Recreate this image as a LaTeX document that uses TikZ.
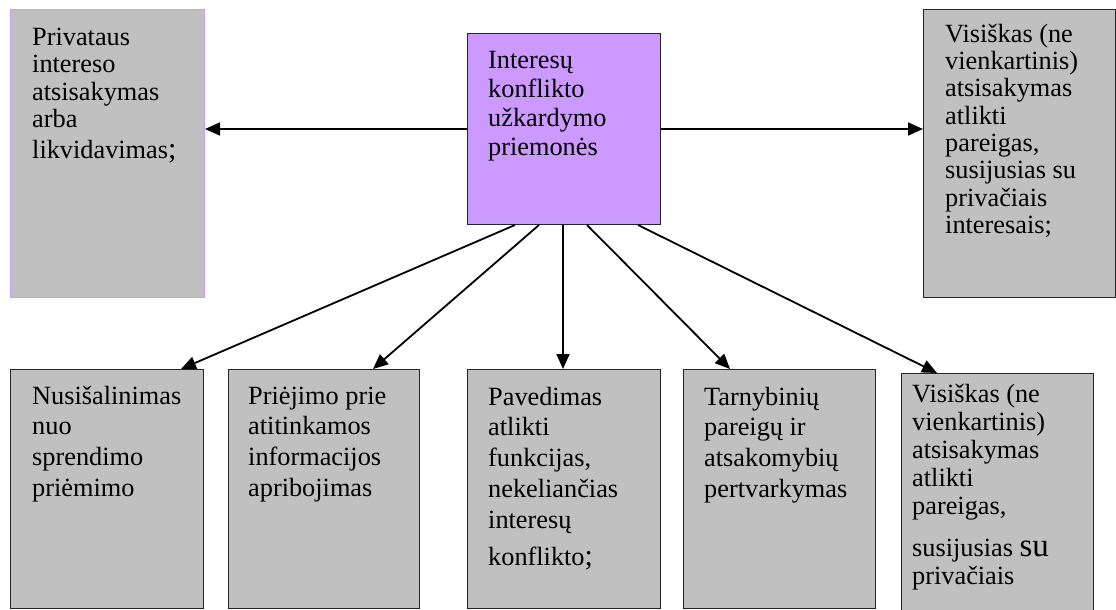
\documentclass[tikz,border=0pt]{standalone}
\usepackage{fontspec}
\setmainfont{Liberation Serif}
\usetikzlibrary{arrows.meta}
\definecolor{boxgray}{HTML}{C0C0C0}
\definecolor{lilac}{HTML}{CC99FF}
\newcommand{\bigsemi}{{\fontsize{30}{30}\selectfont;}}
% invisible rule: puts the top of every text block 22pt above its first baseline
\newcommand{\firstline}{\rule{0pt}{22pt}}
\begin{document}
\begin{tikzpicture}[x=1pt,y=-1pt,
  panel/.style={draw=black!85, line width=1pt, fill=boxgray, inner sep=0pt,
    anchor=north west},
  label text/.style={anchor=north west, align=left, inner sep=0pt,
    font=\fontsize{26.3}{#1}\selectfont},
  label text/.default=27.5,
  arr/.style={line width=1.8pt, -{Triangle[length=15pt,width=13pt]}}]
\clip (0,0) rectangle (1116,610);

% boxes
\node[panel, draw=lilac, minimum width=194pt, minimum height=288pt] (tl) at (10,9) {};
\node[panel, fill=lilac, minimum width=193pt, minimum height=191pt] (c) at (467,33) {};
\node[panel, minimum width=192pt, minimum height=288pt] (tr) at (923,9) {};
\node[panel, minimum width=193pt, minimum height=239pt] (b1) at (10,369) {};
\node[panel, minimum width=191pt, minimum height=239pt] (b2) at (228,369) {};
\node[panel, minimum width=193pt, minimum height=239pt] (b3) at (467,369) {};
\node[panel, minimum width=192pt, minimum height=239pt] (b4) at (683,369) {};
\node[panel, minimum width=192pt, minimum height=260pt] (b5) at (901,373) {};

% texts
\node[label text=27.5] (tlt) at ([xshift=22pt,yshift=-14pt]tl.north west)
  {\firstline Privataus\\intereso\\atsisakymas\\arba\\[3pt]likvidavimas\bigsemi};
\node[label text=29] (ct) at ([xshift=21pt,yshift=-13pt]c.north west)
  {\firstline Interesų\\konflikto\\užkardymo\\priemonės};
\node[label text=27.3] (trt) at ([xshift=22pt,yshift=-11pt]tr.north west)
  {\firstline Visiškas (ne\\vienkartinis)\\atsisakymas\\atlikti\\pareigas,\\susijusias su\\privačiais\\interesais;};
\node[label text=30.7] (b1t) at ([xshift=22pt,yshift=-13pt]b1.north west)
  {\firstline Nusišalinimas\\nuo\\sprendimo\\priėmimo};
\node[label text=30.7] (b2t) at ([xshift=20pt,yshift=-13pt]b2.north west)
  {\firstline Priėjimo prie\\atitinkamos\\informacijos\\apribojimas};
\node[label text=30.7] (b3t) at ([xshift=21pt,yshift=-14pt]b3.north west)
  {\firstline Pavedimas\\atlikti\\funkcijas,\\nekeliančias\\interesų\\[7pt]konflikto\bigsemi};
\node[label text=30.7] (b4t) at ([xshift=21pt,yshift=-14pt]b4.north west)
  {\firstline Tarnybinių\\pareigų ir\\atsakomybių\\pertvarkymas};
\node[label text=28] (b5t) at ([xshift=11pt,yshift=-7pt]b5.north west)
  {\firstline Visiškas (ne\\vienkartinis)\\atsisakymas\\atlikti\\pareigas,\\[14pt]susijusias {\fontsize{33}{33}\selectfont su}\\privačiais};

% connectors
\draw[arr] (c.west) -- (c.west -| tl.east);
\draw[arr] (c.east) -- (c.east -| tr.west);
\draw[arr] ([xshift=48pt]c.south west) -- ([xshift=171pt]b1.north west);
\draw[arr] ([xshift=72pt]c.south west) -- ([xshift=145pt]b2.north west);
\draw[arr] ([xshift=96pt]c.south west) -- ([xshift=96pt]b3.north west);
\draw[arr] ([xshift=120pt]c.south west) -- ([xshift=47pt]b4.north west);
\draw[arr] ([xshift=171pt]c.south west) -- ([xshift=36pt]b5.north west);
\end{tikzpicture}
\end{document}
